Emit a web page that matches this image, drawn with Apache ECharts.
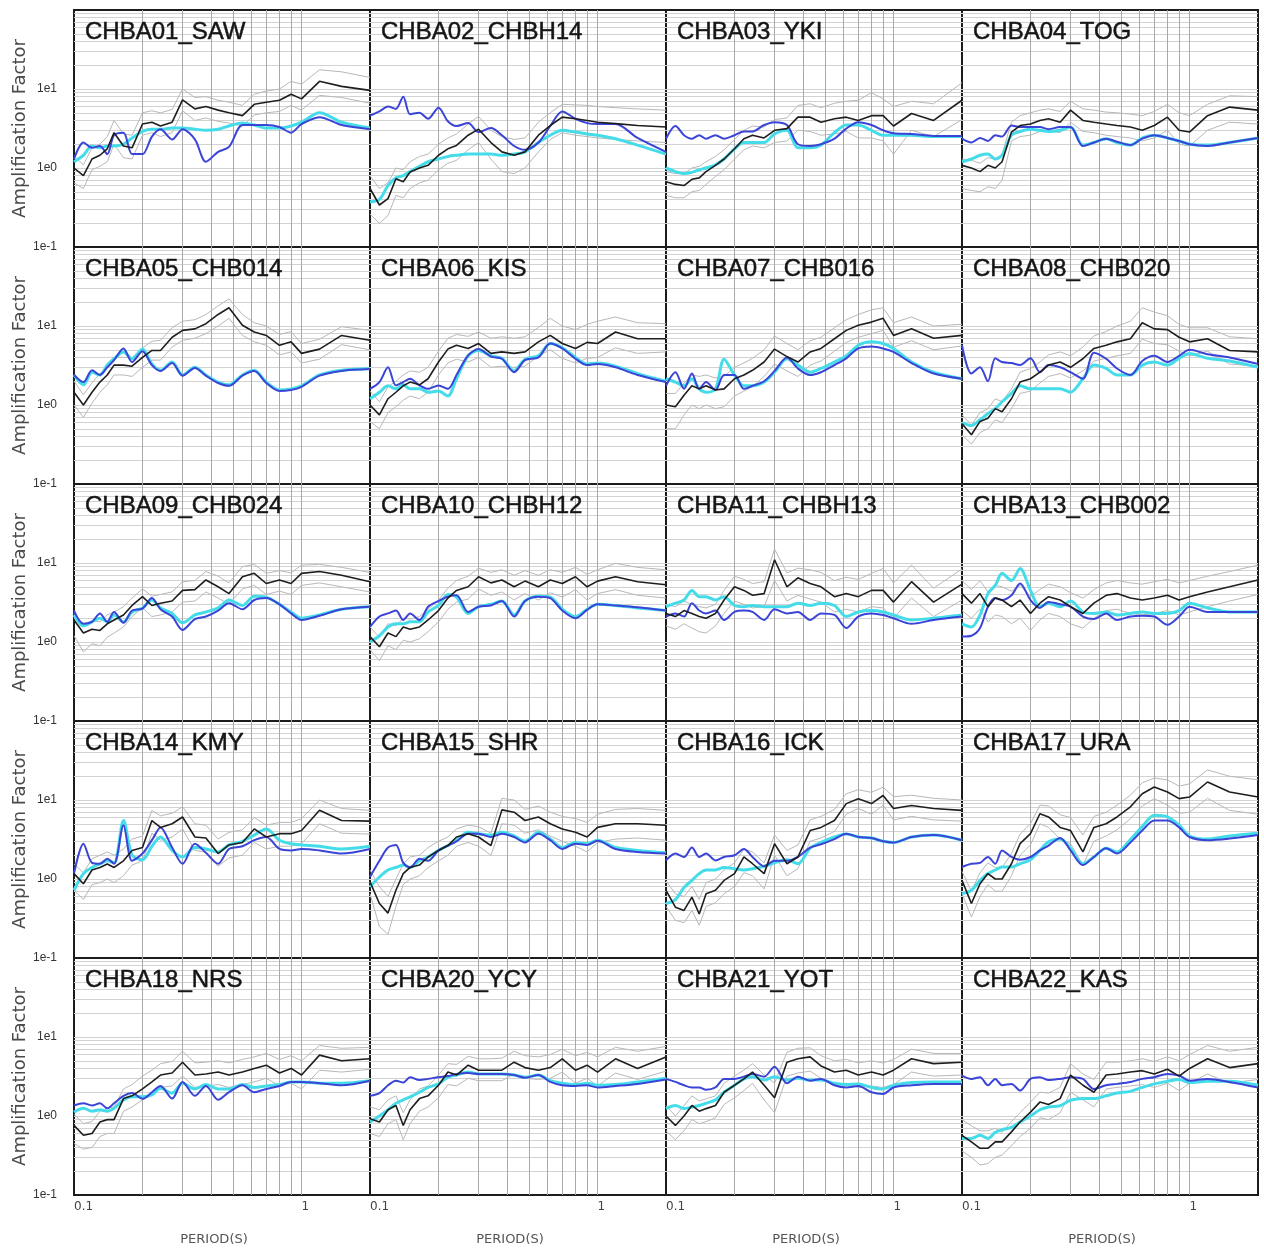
<!DOCTYPE html>
<html>
<head>
<meta charset="utf-8">
<script src="https://cdn.jsdelivr.net/npm/echarts@6/dist/echarts.min.js"></script>
<style>
  html, body { margin: 0; padding: 0; background: #ffffff; }
  #chart { width: 1264px; height: 1252px; }
</style>
</head>
<body>
<div id="chart"></div>
<script>
// Sampled periods (s), shared by every curve
const periods = [0.10, 0.11, 0.12, 0.13, 0.14, 0.15, 0.165, 0.18, 0.20, 0.22, 0.24, 0.27, 0.30, 0.34, 0.38, 0.43, 0.48, 0.55, 0.62, 0.70, 0.80, 0.90, 1.0, 1.2, 1.5, 2.0];

const stations = ['CHBA01_SAW', 'CHBA02_CHBH14', 'CHBA03_YKI', 'CHBA04_TOG',
                  'CHBA05_CHB014', 'CHBA06_KIS', 'CHBA07_CHB016', 'CHBA08_CHB020',
                  'CHBA09_CHB024', 'CHBA10_CHBH12', 'CHBA11_CHBH13', 'CHBA13_CHB002',
                  'CHBA14_KMY', 'CHBA15_SHR', 'CHBA16_ICK', 'CHBA17_URA',
                  'CHBA18_NRS', 'CHBA20_YCY', 'CHBA21_YOT', 'CHBA22_KAS'];

// obs = observed mean, hi/lo = mean +/- one sigma, mA = model A (cyan), mB = model B (blue)
const SAW_obs = [1.0, 0.8, 1.3, 1.45, 1.75, 2.8, 1.9, 1.8, 3.6, 3.8, 3.4, 3.8, 7.3, 5.6, 6.0, 5.4, 5.0, 4.6, 6.4, 6.8, 7.2, 8.6, 7.5, 12.5, 10.8, 9.6];
const SAW_hi  = [1.4, 1.1, 1.8, 2.0, 2.5, 4.0, 2.7, 2.6, 5.0, 5.3, 5.0, 5.5, 10.0, 7.8, 8.0, 7.2, 6.8, 6.2, 8.6, 9.4, 10.0, 12.5, 11.5, 17.5, 16.5, 14.0];
const SAW_lo  = [0.65, 0.55, 0.95, 1.05, 1.2, 2.0, 1.35, 1.3, 2.6, 2.8, 2.5, 2.8, 5.3, 4.0, 4.3, 3.9, 3.7, 3.4, 4.7, 5.0, 5.2, 6.2, 5.4, 8.3, 7.8, 6.6];
const SAW_mA  = [1.2, 1.45, 1.9, 1.8, 1.9, 1.9, 2.0, 2.4, 2.9, 3.1, 3.1, 3.2, 3.2, 3.1, 3.0, 3.1, 3.4, 3.7, 3.5, 3.2, 3.2, 3.4, 3.8, 5.0, 3.8, 3.2];
const SAW_mB  = [1.3, 2.1, 1.8, 1.9, 1.5, 2.6, 2.8, 1.5, 1.5, 2.5, 3.1, 2.3, 3.1, 2.3, 1.2, 1.6, 1.85, 3.5, 3.5, 3.5, 3.3, 2.8, 3.6, 4.4, 3.5, 3.1];

const CHBH14_obs = [0.55, 0.34, 0.41, 0.73, 0.67, 0.89, 1.0, 1.08, 1.45, 1.75, 1.93, 2.6, 3.1, 2.1, 1.6, 1.45, 1.6, 2.6, 3.45, 4.4, 4.2, 4.0, 3.8, 3.65, 3.45, 3.3];
const CHBH14_hi  = [0.8, 0.55, 0.65, 1.0, 0.95, 1.2, 1.4, 1.5, 2.0, 2.4, 2.7, 3.6, 4.5, 3.0, 2.5, 2.3, 2.4, 3.8, 5.0, 6.4, 6.3, 6.2, 6.0, 5.8, 5.6, 5.4];
const CHBH14_lo  = [0.26, 0.2, 0.25, 0.45, 0.42, 0.55, 0.65, 0.7, 0.95, 1.15, 1.25, 1.7, 2.1, 1.3, 0.9, 0.85, 1.0, 1.6, 2.3, 2.8, 2.6, 2.5, 2.4, 2.3, 2.2, 2.1];
const CHBH14_mA  = [0.37, 0.4, 0.6, 0.75, 0.8, 0.9, 1.05, 1.2, 1.3, 1.4, 1.45, 1.5, 1.5, 1.5, 1.45, 1.5, 1.6, 2.1, 2.6, 3.0, 2.85, 2.7, 2.6, 2.35, 1.95, 1.5];
const CHBH14_mB  = [4.6, 5.2, 6.0, 5.6, 8.0, 4.8, 5.0, 4.2, 5.8, 3.9, 3.4, 3.7, 2.85, 3.2, 2.6, 1.9, 1.7, 2.1, 3.4, 5.2, 4.2, 3.7, 3.6, 3.6, 2.4, 1.6];

const YKI_obs = [0.67, 0.62, 0.6, 0.72, 0.75, 0.9, 1.08, 1.3, 1.75, 2.35, 2.6, 2.4, 3.0, 3.15, 4.4, 4.4, 3.8, 4.2, 4.4, 4.0, 4.6, 4.6, 3.4, 4.9, 4.0, 7.2];
const YKI_hi  = [0.9, 0.85, 0.85, 1.0, 1.05, 1.2, 1.4, 1.7, 2.3, 3.0, 3.4, 3.3, 4.1, 4.3, 6.2, 6.5, 5.8, 6.6, 7.0, 7.2, 9.0, 7.5, 6.0, 7.0, 6.5, 12.0];
const YKI_lo  = [0.45, 0.42, 0.42, 0.5, 0.52, 0.62, 0.78, 0.95, 1.3, 1.7, 1.9, 1.8, 2.1, 2.2, 3.0, 2.9, 2.6, 2.7, 2.9, 2.4, 2.4, 2.2, 1.5, 3.0, 2.5, 4.1];
const YKI_mA  = [1.0, 0.9, 0.85, 0.88, 0.95, 1.0, 1.1, 1.3, 1.75, 2.1, 2.1, 2.1, 2.7, 3.0, 1.8, 1.8, 1.95, 2.8, 3.5, 3.5, 3.0, 2.6, 2.6, 2.6, 2.5, 2.5];
const YKI_mB  = [2.35, 3.4, 2.6, 2.35, 2.6, 2.35, 2.6, 2.35, 2.6, 2.9, 2.9, 3.5, 3.8, 3.5, 2.0, 1.9, 2.0, 2.35, 3.15, 3.8, 3.5, 3.0, 2.75, 2.7, 2.55, 2.55];

const TOG_obs = [1.08, 1.0, 0.9, 1.08, 1.0, 1.2, 2.85, 3.45, 3.6, 4.0, 4.2, 3.8, 5.4, 4.0, 3.8, 3.6, 3.45, 3.3, 3.0, 3.45, 4.4, 3.0, 2.85, 4.6, 5.9, 5.4];
const TOG_hi  = [1.3, 1.25, 1.15, 1.35, 1.3, 1.5, 3.8, 4.6, 5.0, 5.4, 5.6, 5.2, 7.0, 5.6, 5.4, 5.1, 5.0, 4.8, 4.6, 5.2, 6.4, 5.0, 4.6, 6.4, 8.2, 8.0];
const TOG_lo  = [0.55, 0.52, 0.5, 0.58, 0.55, 0.7, 2.2, 2.5, 2.6, 2.9, 3.0, 2.8, 3.8, 2.9, 2.8, 2.6, 2.5, 2.4, 2.2, 2.4, 3.0, 2.0, 1.9, 3.0, 3.8, 3.6];
const TOG_mA  = [1.2, 1.3, 1.45, 1.5, 1.3, 1.45, 2.6, 2.9, 3.1, 3.0, 2.9, 3.0, 3.3, 1.95, 2.1, 2.35, 2.1, 1.95, 2.4, 2.6, 2.4, 2.2, 2.0, 1.95, 2.1, 2.4];
const TOG_mB  = [2.35, 2.1, 2.4, 2.2, 2.6, 2.5, 3.45, 3.3, 3.3, 3.3, 3.1, 3.3, 3.3, 1.9, 2.1, 2.35, 2.15, 1.95, 2.35, 2.6, 2.4, 2.2, 2.0, 1.9, 2.1, 2.4];

const CHB014_obs = [1.45, 1.0, 1.45, 1.95, 2.4, 3.2, 3.2, 3.1, 4.0, 4.9, 4.9, 7.2, 8.8, 9.2, 10.7, 14, 17, 10.2, 8.4, 7.6, 5.7, 6.3, 4.5, 5.1, 7.6, 6.6];
const CHB014_hi  = [2.0, 1.35, 1.9, 2.5, 3.0, 4.0, 4.0, 4.0, 5.3, 6.4, 6.6, 9.5, 11.5, 12, 14, 18, 22, 14, 11, 10, 7.8, 8.5, 6.0, 6.8, 9.8, 8.8];
const CHB014_lo  = [1.0, 0.7, 1.05, 1.45, 1.8, 2.4, 2.4, 2.3, 3.0, 3.7, 3.7, 5.4, 6.6, 7.0, 8.0, 10, 12.5, 7.6, 6.3, 5.7, 4.3, 4.7, 3.4, 3.8, 5.8, 5.0];
const CHB014_mA  = [2.4, 1.8, 2.6, 2.4, 3.2, 3.85, 4.7, 3.85, 5.1, 3.3, 2.75, 3.5, 2.4, 3.0, 2.4, 1.95, 1.8, 2.4, 2.75, 1.95, 1.55, 1.6, 1.75, 2.4, 2.75, 2.9];
const CHB014_mB  = [2.4, 1.95, 2.75, 2.4, 3.0, 3.7, 5.2, 3.5, 4.8, 3.2, 2.7, 3.4, 2.35, 2.95, 2.35, 1.9, 1.75, 2.35, 2.7, 1.9, 1.5, 1.55, 1.7, 2.35, 2.7, 2.85];

const KIS_obs = [1.0, 0.75, 1.2, 1.45, 1.75, 1.95, 1.8, 2.15, 3.5, 5.1, 5.7, 5.2, 6.0, 4.5, 4.7, 4.5, 4.7, 6.3, 7.6, 6.0, 5.2, 6.2, 6.0, 8.4, 6.9, 6.9];
const KIS_hi  = [1.5, 1.1, 1.7, 2.0, 2.4, 2.7, 2.6, 3.0, 4.8, 7.0, 7.8, 7.4, 8.4, 7.0, 7.3, 7.0, 7.3, 9.6, 12.5, 10.0, 9.0, 10.5, 11.5, 13, 11, 10.7];
const KIS_lo  = [0.62, 0.5, 0.8, 0.95, 1.15, 1.3, 1.2, 1.45, 2.4, 3.4, 3.8, 3.5, 4.0, 3.0, 3.1, 3.0, 3.1, 4.2, 5.0, 3.9, 3.4, 3.9, 4.0, 5.3, 4.5, 4.7];
const KIS_mA  = [1.2, 1.45, 1.75, 1.6, 1.8, 1.6, 1.6, 1.45, 1.5, 1.3, 2.15, 4.2, 4.9, 4.2, 3.9, 2.7, 3.8, 4.2, 6.0, 5.3, 4.0, 3.3, 3.4, 3.1, 2.5, 2.0];
const KIS_mB  = [1.6, 1.95, 3.0, 1.77, 1.95, 2.15, 1.77, 1.6, 1.77, 1.6, 2.4, 4.25, 5.1, 4.1, 3.85, 2.6, 3.7, 4.0, 6.0, 5.2, 3.85, 3.2, 3.3, 3.0, 2.4, 1.95];

const CHB016_obs = [1.0, 0.95, 1.33, 1.75, 1.6, 1.75, 1.55, 1.6, 2.15, 2.4, 2.75, 3.5, 5.1, 4.1, 3.5, 4.7, 5.2, 6.9, 8.8, 10.2, 11.2, 12.5, 7.6, 9.2, 7.0, 7.6];
const CHB016_hi  = [1.4, 1.4, 1.9, 2.4, 2.3, 2.4, 2.2, 2.3, 3.0, 3.4, 3.9, 5.0, 7.5, 6.0, 5.0, 6.5, 7.2, 9.5, 12, 14, 16, 17, 11, 13, 10, 10.5];
const CHB016_lo  = [0.5, 0.5, 0.75, 1.0, 0.9, 1.0, 0.9, 0.95, 1.3, 1.5, 1.7, 2.3, 3.3, 2.7, 2.3, 3.2, 3.6, 4.8, 6.2, 7.2, 8.0, 8.8, 5.4, 6.5, 5.0, 5.6];
const CHB016_mA  = [2.15, 1.95, 1.75, 2.15, 1.6, 1.45, 1.6, 3.8, 2.4, 1.75, 1.75, 1.95, 2.6, 3.85, 3.2, 2.6, 2.9, 3.5, 4.2, 5.7, 6.3, 6.0, 5.2, 3.5, 2.6, 2.15];
const CHB016_mB  = [1.75, 2.6, 1.6, 2.5, 1.6, 1.95, 1.55, 2.4, 2.4, 1.6, 1.75, 2.0, 2.7, 4.0, 2.9, 2.4, 2.6, 3.2, 3.9, 5.2, 5.5, 5.2, 4.7, 3.4, 2.5, 2.15];

const CHB020_obs = [0.58, 0.42, 0.62, 0.68, 0.9, 0.82, 1.2, 1.95, 2.15, 2.6, 3.2, 3.5, 3.0, 3.85, 5.2, 5.7, 6.3, 6.9, 11, 9.2, 9.0, 7.2, 6.3, 6.9, 4.9, 4.7];
const CHB020_hi  = [0.75, 0.56, 0.8, 0.9, 1.2, 1.1, 1.6, 2.6, 2.9, 3.5, 4.3, 4.7, 4.2, 5.4, 7.5, 8.5, 10, 11.5, 17, 15, 13.5, 10.5, 9.5, 9.5, 7.3, 6.9];
const CHB020_lo  = [0.42, 0.32, 0.45, 0.5, 0.65, 0.6, 0.9, 1.4, 1.5, 1.9, 2.3, 2.5, 2.2, 2.7, 3.6, 3.9, 4.2, 4.5, 6.8, 6.0, 5.8, 4.8, 4.2, 4.8, 3.3, 3.1];
const CHB020_mA  = [0.6, 0.55, 0.65, 0.78, 0.9, 1.1, 1.4, 1.75, 1.6, 1.6, 1.6, 1.6, 1.45, 2.15, 3.2, 2.9, 2.4, 2.4, 3.2, 3.5, 3.2, 3.9, 4.5, 3.9, 3.6, 3.0];
const CHB020_mB  = [5.7, 2.5, 3.0, 2.0, 3.9, 3.5, 3.4, 3.2, 3.9, 2.6, 3.2, 3.0, 2.6, 2.15, 4.6, 3.85, 2.9, 2.4, 3.6, 4.2, 3.5, 4.2, 5.0, 4.4, 4.0, 3.3];

const CHB024_obs = [1.9, 1.3, 1.45, 1.4, 1.7, 1.9, 2.2, 2.9, 3.75, 2.9, 3.1, 3.3, 4.5, 4.6, 6.1, 5.0, 4.1, 6.7, 7.4, 5.5, 6.1, 5.5, 7.4, 7.8, 7.0, 5.8];
const CHB024_hi  = [2.3, 1.7, 1.85, 1.8, 2.2, 2.4, 2.8, 3.6, 4.7, 3.8, 4.0, 4.3, 5.8, 6.0, 7.8, 6.8, 5.6, 9.0, 9.6, 7.4, 8.0, 7.5, 9.4, 9.6, 8.8, 7.6];
const CHB024_lo  = [1.2, 0.75, 0.95, 0.9, 1.15, 1.3, 1.55, 2.1, 2.7, 2.1, 2.2, 2.4, 3.2, 3.3, 4.3, 3.6, 3.0, 4.7, 5.2, 4.0, 4.4, 4.0, 5.2, 5.6, 5.0, 4.3];
const CHB024_mA  = [2.2, 1.6, 1.8, 2.0, 1.8, 2.2, 1.8, 2.4, 2.7, 3.4, 2.7, 2.3, 1.75, 2.2, 2.4, 2.7, 3.4, 2.9, 3.8, 3.7, 3.0, 2.4, 2.0, 2.2, 2.6, 2.8];
const CHB024_mB  = [2.5, 1.7, 1.8, 2.3, 1.8, 2.4, 1.75, 2.5, 2.65, 3.6, 2.6, 2.1, 1.42, 1.95, 2.1, 2.5, 3.1, 2.6, 3.4, 3.6, 3.0, 2.3, 1.9, 2.15, 2.6, 2.8];

const CHBH12_obs = [1.17, 0.87, 1.3, 1.17, 1.55, 1.45, 1.55, 1.9, 2.5, 3.6, 4.5, 5.0, 6.7, 5.6, 6.1, 5.0, 5.9, 5.0, 6.1, 5.5, 6.7, 5.0, 5.9, 6.7, 5.8, 5.3];
const CHBH12_hi  = [1.55, 1.15, 1.7, 1.6, 2.0, 1.95, 2.1, 2.6, 3.4, 4.8, 6.0, 6.8, 8.6, 7.6, 8.2, 7.0, 8.0, 7.0, 8.2, 7.6, 8.8, 7.2, 8.2, 9.9, 8.8, 8.2];
const CHBH12_lo  = [0.8, 0.58, 0.9, 0.8, 1.05, 1.0, 1.1, 1.35, 1.8, 2.6, 3.2, 3.5, 4.7, 3.9, 4.3, 3.4, 4.1, 3.4, 4.2, 3.7, 4.6, 3.4, 4.1, 4.6, 3.9, 3.6];
const CHBH12_mA  = [1.0, 1.2, 1.55, 1.7, 1.7, 1.8, 1.8, 2.4, 2.9, 4.0, 3.7, 2.3, 2.8, 3.0, 3.3, 2.2, 3.3, 3.8, 3.7, 2.6, 2.1, 2.6, 3.0, 2.9, 2.7, 2.5];
const CHBH12_mB  = [1.55, 2.1, 2.3, 2.5, 1.9, 2.3, 1.9, 2.8, 3.3, 3.75, 3.9, 2.4, 2.8, 2.9, 3.3, 2.1, 3.3, 3.75, 3.6, 2.5, 2.0, 2.55, 3.0, 2.9, 2.75, 2.5];

const CHBH13_obs = [2.3, 2.1, 2.5, 2.3, 2.1, 2.0, 2.3, 3.4, 5.0, 4.5, 3.9, 4.1, 11, 5.0, 6.5, 5.5, 5.0, 3.75, 4.1, 3.75, 4.5, 4.5, 3.2, 5.8, 3.2, 5.4];
const CHBH13_hi  = [3.0, 2.8, 3.3, 3.0, 2.8, 2.7, 3.0, 4.5, 6.8, 6.2, 5.5, 5.8, 15, 7.5, 8.6, 8.2, 7.6, 6.0, 6.6, 6.2, 7.4, 8.5, 5.6, 9.4, 4.8, 8.4];
const CHBH13_lo  = [1.6, 1.45, 1.7, 1.5, 1.35, 1.3, 1.6, 2.3, 3.3, 3.0, 2.7, 2.8, 6.0, 3.3, 3.9, 3.5, 3.2, 2.4, 2.6, 2.4, 2.8, 2.7, 2.0, 3.6, 2.1, 3.4];
const CHBH13_mA  = [2.8, 3.1, 3.4, 4.5, 3.75, 3.75, 3.4, 3.75, 2.9, 2.8, 2.9, 2.8, 2.8, 2.8, 3.1, 2.9, 3.1, 2.9, 2.1, 2.4, 2.5, 2.4, 2.2, 1.9, 2.0, 2.2];
const CHBH13_mB  = [2.1, 2.3, 2.1, 3.1, 2.5, 2.3, 2.5, 1.9, 2.4, 2.5, 2.4, 1.9, 2.6, 2.3, 2.4, 1.9, 2.3, 2.2, 1.5, 2.1, 2.3, 2.2, 2.0, 1.7, 1.9, 2.1];

const CHB002_obs = [4.1, 3.1, 4.1, 2.8, 3.6, 3.4, 2.8, 3.4, 2.3, 3.1, 3.75, 3.4, 2.8, 2.3, 3.1, 3.9, 4.1, 3.6, 3.4, 3.6, 3.9, 3.4, 3.75, 4.3, 5.0, 6.1];
const CHB002_hi  = [6.0, 4.6, 6.0, 4.3, 5.2, 5.0, 4.4, 5.2, 3.8, 4.6, 5.4, 5.0, 4.2, 3.6, 4.6, 5.6, 6.0, 5.6, 5.4, 5.8, 6.2, 5.6, 6.0, 6.8, 7.8, 9.4];
const CHB002_lo  = [2.5, 2.0, 2.6, 1.8, 2.2, 2.1, 1.7, 2.0, 1.4, 1.9, 2.3, 2.1, 1.7, 1.5, 2.0, 2.5, 2.6, 2.3, 2.2, 2.3, 2.5, 2.2, 2.4, 2.8, 3.3, 4.0];
const CHB002_mA  = [1.7, 1.55, 2.2, 4.1, 5.2, 7.4, 6.0, 8.5, 4.5, 2.8, 3.1, 2.8, 3.3, 2.4, 2.3, 2.4, 2.2, 2.3, 2.4, 2.3, 2.3, 2.5, 3.1, 2.7, 2.4, 2.4];
const CHB002_mB  = [1.17, 1.2, 1.5, 2.8, 3.6, 3.4, 3.9, 5.5, 3.4, 2.7, 3.2, 3.0, 2.8, 2.1, 1.95, 2.3, 1.9, 2.1, 2.15, 2.1, 1.65, 2.1, 2.8, 2.4, 2.4, 2.4];

const KMY_obs = [1.17, 0.87, 1.3, 1.4, 1.55, 1.4, 1.7, 2.3, 2.5, 5.5, 4.5, 5.0, 6.1, 3.4, 3.3, 2.1, 2.7, 2.9, 4.3, 3.4, 3.75, 3.75, 4.1, 7.4, 5.5, 5.4];
const KMY_hi  = [1.55, 1.2, 1.8, 2.0, 2.2, 2.0, 2.4, 3.2, 3.5, 7.4, 6.3, 6.8, 8.2, 5.0, 4.8, 3.2, 3.9, 4.2, 6.0, 4.8, 5.2, 5.2, 5.8, 10, 7.8, 7.4];
const KMY_lo  = [0.72, 0.55, 0.85, 0.9, 1.0, 0.9, 1.1, 1.5, 1.7, 3.8, 3.1, 3.4, 4.3, 2.3, 2.2, 1.45, 1.85, 2.0, 2.9, 2.4, 2.6, 2.6, 2.8, 5.0, 3.8, 3.7];
const KMY_mA  = [0.72, 1.17, 1.4, 1.55, 1.7, 1.6, 5.5, 2.0, 1.75, 2.6, 3.4, 2.3, 1.9, 2.5, 2.4, 2.2, 2.7, 3.0, 3.6, 4.3, 3.1, 2.8, 2.7, 2.6, 2.4, 2.6];
const KMY_mB  = [1.17, 2.8, 1.6, 1.56, 1.8, 1.56, 4.8, 1.7, 2.1, 3.1, 4.5, 2.5, 1.56, 2.8, 2.15, 1.56, 2.4, 2.6, 3.1, 3.4, 2.4, 2.3, 2.4, 2.3, 2.1, 2.4];

const SHR_obs = [0.92, 0.49, 0.37, 0.72, 1.17, 1.4, 1.5, 1.9, 2.3, 2.65, 3.4, 3.75, 3.4, 2.65, 7.5, 7.0, 5.5, 6.1, 5.0, 4.3, 3.9, 3.4, 4.5, 5.0, 5.0, 4.8];
const SHR_hi  = [1.3, 0.8, 0.6, 1.0, 1.55, 1.9, 2.0, 2.5, 3.0, 3.4, 4.3, 4.8, 4.6, 3.8, 10.5, 10.0, 7.6, 8.4, 7.0, 6.2, 5.8, 5.2, 6.6, 7.6, 7.8, 7.4];
const SHR_lo  = [0.65, 0.25, 0.2, 0.45, 0.85, 1.0, 1.1, 1.4, 1.7, 2.0, 2.6, 2.9, 2.6, 2.0, 5.0, 4.8, 3.8, 4.2, 3.5, 3.0, 2.6, 2.2, 2.9, 3.2, 3.3, 3.1];
const SHR_mA  = [0.8, 1.06, 1.3, 1.4, 1.5, 1.4, 1.7, 1.9, 2.3, 2.65, 3.1, 3.9, 3.75, 3.6, 3.9, 3.5, 3.0, 3.9, 3.2, 2.5, 2.9, 2.8, 3.1, 2.5, 2.3, 2.15];
const SHR_mB  = [1.06, 1.7, 2.5, 2.7, 1.6, 1.4, 1.8, 1.7, 2.3, 2.65, 3.0, 3.75, 3.75, 3.4, 3.75, 3.4, 2.9, 3.75, 3.1, 2.4, 2.8, 2.7, 3.05, 2.4, 2.2, 2.1];

const ICK_obs = [0.72, 0.44, 0.4, 0.59, 0.36, 0.65, 0.72, 0.96, 1.17, 1.9, 1.56, 1.17, 2.8, 1.56, 1.9, 4.1, 4.5, 5.5, 9.0, 10.4, 9.0, 11.4, 7.8, 8.5, 7.8, 7.4];
const ICK_hi  = [0.95, 0.65, 0.6, 0.8, 0.55, 0.9, 1.0, 1.3, 1.6, 2.4, 2.2, 1.6, 3.6, 2.3, 2.7, 5.6, 6.2, 7.6, 12, 13.5, 12.5, 14.5, 11, 11.5, 10.5, 10];
const ICK_lo  = [0.45, 0.3, 0.28, 0.4, 0.26, 0.45, 0.5, 0.65, 0.8, 1.2, 1.1, 0.75, 2.0, 1.1, 1.35, 3.0, 3.3, 4.0, 6.6, 7.8, 6.6, 8.6, 5.6, 6.2, 5.6, 5.4];
const ICK_mA  = [0.49, 0.55, 0.78, 0.96, 1.17, 1.3, 1.3, 1.4, 1.35, 1.3, 1.35, 1.45, 1.6, 1.75, 1.56, 2.45, 2.9, 3.4, 3.7, 3.4, 3.3, 3.0, 2.9, 3.4, 3.6, 3.1];
const ICK_mB  = [1.72, 2.1, 1.9, 2.5, 1.9, 2.1, 1.72, 1.9, 2.0, 2.4, 1.9, 1.45, 1.7, 1.7, 1.9, 2.5, 2.75, 3.2, 3.75, 3.4, 3.3, 3.0, 2.9, 3.4, 3.6, 3.1];

const URA_obs = [0.96, 0.49, 0.87, 1.17, 1.0, 1.0, 1.56, 2.8, 3.75, 6.7, 6.1, 4.5, 4.1, 2.2, 4.5, 5.0, 6.1, 8.2, 12, 14.6, 12.6, 10.4, 10.9, 16.9, 12.6, 10.9];
const URA_hi  = [1.25, 0.7, 1.2, 1.6, 1.4, 1.4, 2.1, 3.7, 5.0, 8.6, 8.4, 6.5, 6.0, 3.6, 6.2, 7.0, 8.6, 11.5, 16.5, 19, 18, 15, 16, 24, 20, 18];
const URA_lo  = [0.65, 0.33, 0.6, 0.85, 0.7, 0.7, 1.1, 2.0, 2.7, 5.0, 4.5, 3.2, 2.8, 1.5, 3.0, 3.5, 4.2, 5.8, 8.4, 10.4, 8.6, 6.8, 7.0, 10.5, 7.4, 6.6];
const URA_mA  = [0.65, 0.72, 0.96, 1.17, 1.3, 1.42, 1.42, 1.56, 1.75, 2.3, 2.95, 3.2, 2.45, 1.56, 1.9, 2.45, 2.2, 3.15, 4.6, 6.4, 6.1, 4.8, 3.5, 3.2, 3.5, 3.8];
const URA_mB  = [1.42, 1.56, 1.6, 1.9, 1.56, 2.3, 1.9, 1.75, 1.9, 2.3, 2.65, 3.3, 2.3, 1.5, 1.9, 2.45, 2.1, 2.9, 4.1, 5.5, 5.5, 4.5, 3.4, 3.1, 3.25, 3.6];

const NRS_obs = [0.76, 0.57, 0.6, 0.84, 0.9, 0.9, 1.66, 1.8, 2.2, 2.7, 3.3, 3.5, 4.8, 3.3, 3.4, 3.6, 3.3, 3.6, 4.0, 4.4, 3.5, 4.0, 3.3, 5.9, 5.0, 5.3];
const NRS_hi  = [1.05, 0.8, 0.85, 1.15, 1.25, 1.3, 2.2, 2.5, 3.2, 3.8, 4.6, 4.9, 6.6, 4.7, 4.8, 5.0, 4.7, 5.2, 5.6, 6.2, 5.2, 5.8, 5.0, 7.8, 7.2, 7.4];
const NRS_lo  = [0.45, 0.38, 0.4, 0.55, 0.6, 0.6, 1.15, 1.3, 1.6, 1.85, 2.3, 2.4, 3.2, 2.3, 2.4, 2.5, 2.3, 2.5, 2.7, 3.0, 2.4, 2.6, 2.2, 3.8, 3.6, 3.9];
const NRS_mA  = [1.12, 1.25, 1.15, 1.2, 1.15, 1.25, 1.6, 1.75, 1.75, 1.85, 2.25, 1.95, 2.6, 2.2, 2.5, 2.2, 2.2, 2.5, 2.3, 2.4, 2.5, 2.7, 2.7, 2.6, 2.6, 2.8];
const NRS_mB  = [1.36, 1.45, 1.36, 1.45, 1.25, 1.45, 1.8, 1.95, 1.65, 2.0, 2.4, 1.66, 2.7, 1.8, 2.4, 1.6, 2.0, 2.45, 2.0, 2.2, 2.4, 2.7, 2.7, 2.6, 2.45, 2.8];

const YCY_obs = [0.92, 0.84, 1.2, 1.36, 0.76, 1.2, 1.66, 1.8, 2.45, 3.6, 3.3, 4.4, 3.8, 3.8, 3.8, 4.8, 4.1, 3.8, 4.1, 5.3, 3.8, 4.4, 3.6, 5.3, 4.0, 5.6];
const YCY_hi  = [1.3, 1.2, 1.6, 1.8, 1.1, 1.6, 2.2, 2.4, 3.3, 4.6, 4.5, 5.7, 5.3, 5.3, 5.4, 6.6, 5.8, 5.6, 6.0, 7.0, 5.8, 6.4, 5.6, 7.4, 6.6, 7.6];
const YCY_lo  = [0.6, 0.55, 0.8, 0.9, 0.5, 0.8, 1.15, 1.3, 1.7, 2.5, 2.4, 3.0, 2.8, 2.8, 2.8, 3.4, 3.0, 2.9, 3.0, 3.6, 2.6, 3.0, 2.4, 3.5, 2.9, 3.7];
const YCY_mA  = [0.84, 1.0, 1.2, 1.45, 1.6, 1.75, 2.0, 2.3, 2.55, 3.1, 3.3, 3.6, 3.4, 3.4, 3.4, 3.3, 3.1, 3.3, 2.8, 2.6, 2.5, 2.6, 2.45, 2.5, 2.7, 3.0];
const YCY_mB  = [1.8, 1.95, 2.45, 2.8, 2.65, 3.1, 2.85, 2.95, 3.1, 3.2, 3.4, 3.5, 3.4, 3.4, 3.4, 3.3, 3.05, 3.3, 2.7, 2.45, 2.4, 2.45, 2.3, 2.4, 2.55, 2.9];

const YOT_obs = [1.0, 0.76, 1.0, 1.36, 1.15, 1.24, 1.36, 2.0, 2.45, 2.95, 3.6, 2.45, 1.7, 4.8, 5.3, 5.6, 4.3, 3.6, 3.8, 3.3, 3.6, 3.3, 3.8, 5.3, 4.6, 4.8];
const YOT_hi  = [1.35, 1.0, 1.35, 1.8, 1.55, 1.65, 1.8, 2.6, 3.2, 3.8, 4.6, 3.3, 2.6, 6.4, 7.2, 7.3, 5.8, 5.0, 5.2, 4.7, 5.0, 4.7, 5.2, 7.0, 6.2, 6.2];
const YOT_lo  = [0.65, 0.5, 0.65, 0.9, 0.8, 0.85, 0.95, 1.4, 1.7, 2.1, 2.6, 1.6, 1.1, 3.2, 3.5, 3.7, 3.0, 2.5, 2.6, 2.3, 2.4, 2.3, 2.5, 3.6, 3.2, 3.3];
const YOT_mA  = [1.24, 1.36, 1.24, 1.3, 1.36, 1.45, 1.6, 2.0, 2.45, 2.95, 3.15, 2.85, 3.15, 2.85, 3.0, 2.85, 2.85, 2.6, 2.5, 2.55, 2.3, 2.2, 2.45, 2.65, 2.7, 2.7];
const YOT_mB  = [2.95, 2.7, 2.45, 2.3, 2.3, 2.15, 2.3, 2.95, 2.95, 3.15, 3.4, 3.15, 4.2, 2.6, 3.15, 2.8, 2.95, 2.45, 2.3, 2.4, 2.0, 1.9, 2.3, 2.45, 2.55, 2.55];

const KAS_obs = [0.57, 0.47, 0.39, 0.39, 0.47, 0.47, 0.63, 0.84, 1.12, 1.5, 1.4, 1.66, 3.3, 2.45, 2.0, 3.3, 3.4, 3.6, 3.75, 3.4, 3.9, 3.2, 4.0, 5.3, 4.1, 4.6];
const KAS_hi  = [0.9, 0.75, 0.65, 0.65, 0.7, 0.62, 0.85, 1.1, 1.5, 2.0, 1.95, 2.3, 4.6, 3.4, 2.9, 4.8, 4.8, 5.0, 5.3, 4.9, 5.6, 5.0, 6.0, 7.8, 6.6, 7.4];
const KAS_lo  = [0.36, 0.3, 0.24, 0.25, 0.3, 0.32, 0.42, 0.55, 0.7, 0.95, 0.9, 1.1, 2.0, 1.6, 1.3, 2.2, 2.3, 2.4, 2.5, 2.3, 2.6, 2.1, 2.6, 3.4, 2.6, 2.9];
const KAS_mA  = [0.52, 0.52, 0.57, 0.52, 0.62, 0.67, 0.72, 0.84, 1.0, 1.2, 1.3, 1.35, 1.58, 1.66, 1.66, 1.8, 1.95, 2.05, 2.3, 2.55, 2.75, 2.9, 2.65, 2.75, 2.75, 2.45];
const KAS_mB  = [3.25, 2.95, 3.1, 2.45, 2.95, 2.45, 2.55, 2.1, 2.95, 3.1, 2.85, 2.95, 3.1, 2.95, 2.2, 2.45, 2.55, 2.7, 2.95, 3.1, 3.4, 3.25, 2.8, 2.95, 2.7, 2.3];

// Log-decade grid positions inside each panel
const hGridValues = [0.2, 0.3, 0.4, 0.5, 0.6, 0.7, 0.8, 0.9, 1, 2, 3, 4, 5, 6, 7, 8, 9, 10, 20, 30, 40, 50, 60, 70, 80, 90];
const vGridValues = [0.2, 0.3, 0.4, 0.5, 0.6, 0.7, 0.8, 0.9, 1];

// Per-panel curve sets: [mean, +sigma, -sigma, model A, model B]
const panelCurves = [
  [SAW_obs, SAW_hi, SAW_lo, SAW_mA, SAW_mB],
  [CHBH14_obs, CHBH14_hi, CHBH14_lo, CHBH14_mA, CHBH14_mB],
  [YKI_obs, YKI_hi, YKI_lo, YKI_mA, YKI_mB],
  [TOG_obs, TOG_hi, TOG_lo, TOG_mA, TOG_mB],
  [CHB014_obs, CHB014_hi, CHB014_lo, CHB014_mA, CHB014_mB],
  [KIS_obs, KIS_hi, KIS_lo, KIS_mA, KIS_mB],
  [CHB016_obs, CHB016_hi, CHB016_lo, CHB016_mA, CHB016_mB],
  [CHB020_obs, CHB020_hi, CHB020_lo, CHB020_mA, CHB020_mB],
  [CHB024_obs, CHB024_hi, CHB024_lo, CHB024_mA, CHB024_mB],
  [CHBH12_obs, CHBH12_hi, CHBH12_lo, CHBH12_mA, CHBH12_mB],
  [CHBH13_obs, CHBH13_hi, CHBH13_lo, CHBH13_mA, CHBH13_mB],
  [CHB002_obs, CHB002_hi, CHB002_lo, CHB002_mA, CHB002_mB],
  [KMY_obs, KMY_hi, KMY_lo, KMY_mA, KMY_mB],
  [SHR_obs, SHR_hi, SHR_lo, SHR_mA, SHR_mB],
  [ICK_obs, ICK_hi, ICK_lo, ICK_mA, ICK_mB],
  [URA_obs, URA_hi, URA_lo, URA_mA, URA_mB],
  [NRS_obs, NRS_hi, NRS_lo, NRS_mA, NRS_mB],
  [YCY_obs, YCY_hi, YCY_lo, YCY_mA, YCY_mB],
  [YOT_obs, YOT_hi, YOT_lo, YOT_mA, YOT_mB],
  [KAS_obs, KAS_hi, KAS_lo, KAS_mA, KAS_mB]
];

const NCOL = 4, NROW = 5;
const PANEL_W = 296, PANEL_H = 237, LEFT0 = 74, TOP0 = 10;

const pairs = vals => periods.map((p, i) => [p, vals[i]]);
const nearly = (a, b) => Math.abs(a - b) < 1e-6 * Math.max(1, Math.abs(b));

const grids = [], xAxes = [], yAxes = [], titles = [], series = [];

stations.forEach((name, i) => {
  const r = Math.floor(i / NCOL), c = i % NCOL;
  const left = LEFT0 + c * PANEL_W, top = TOP0 + r * PANEL_H;
  grids.push({
    left: left, top: top, width: PANEL_W, height: PANEL_H,
    show: true, borderColor: '#1c1c1c', borderWidth: 2, backgroundColor: '#ffffff'
  });
  titles.push({
    text: name, left: left + 11, top: top + 10, padding: 0,
    textStyle: {
      fontFamily: 'Liberation Sans, Arial, sans-serif', fontSize: 24, fontWeight: 'normal', color: '#151515',
      textBorderColor: '#151515', textBorderWidth: 0.5
    }
  });
  const bottomRow = r === NROW - 1;
  xAxes.push({
    type: 'log', logBase: 10, min: 0.1, max: 2, gridIndex: i,
    axisLine: { show: false }, axisTick: { show: false }, splitLine: { show: false },
    axisLabel: {
      show: bottomRow, showMaxLabel: false, align: 'left', margin: 6,
      fontFamily: 'DejaVu Sans, sans-serif', fontSize: 12, color: '#444',
      formatter: v => nearly(v, 0.1) ? '0.1' : (nearly(v, 1) ? '1' : '')
    },
    name: bottomRow ? 'PERIOD(S)' : '', nameLocation: 'middle', nameGap: 38,
    nameTextStyle: { fontFamily: 'DejaVu Sans, sans-serif', fontSize: 13, color: '#555', padding: [0, 16, 0, 0] }
  });
  const firstCol = c === 0;
  yAxes.push({
    type: 'log', logBase: 10, min: 0.1, max: 100, gridIndex: i,
    axisLine: { show: false }, axisTick: { show: false }, splitLine: { show: false },
    axisLabel: {
      show: firstCol, showMaxLabel: false, margin: 17,
      fontFamily: 'Liberation Sans, Arial, sans-serif', fontSize: 12, color: '#333',
      formatter: v => '1e' + Math.round(Math.log10(v))
    },
    name: firstCol ? 'Amplification Factor' : '', nameLocation: 'middle', nameRotate: 90, nameGap: 44,
    nameTextStyle: { fontFamily: 'DejaVu Sans, sans-serif', fontSize: 18, color: '#4a4a4a' }
  });

  const [obs, hi, lo, mA, mB] = panelCurves[i];
  const base = { type: 'line', xAxisIndex: i, yAxisIndex: i, showSymbol: false, symbol: 'none', silent: true, animation: false };
  series.push(Object.assign({}, base, {
    name: name + ' +sigma', data: pairs(hi), z: 3,
    lineStyle: { color: '#b8b8b8', width: 1 },
    markLine: {
      silent: true, symbol: 'none', z: 1, animation: false,
      label: { show: false },
      lineStyle: { color: '#d2d2d2', width: 1, type: 'solid' },
      emphasis: { disabled: true },
      data: hGridValues.map(v => ({ yAxis: v }))
        .concat(vGridValues.map(v => ({ xAxis: v, lineStyle: { color: '#a9a9a9', width: 1, type: 'solid' } })))
    }
  }));
  series.push(Object.assign({}, base, {
    name: name + ' -sigma', data: pairs(lo), z: 3,
    lineStyle: { color: '#b8b8b8', width: 1 }
  }));
  series.push(Object.assign({}, base, {
    name: name + ' model A', data: pairs(mA), z: 4, smooth: 0.3,
    lineStyle: { color: '#45dcea', width: 3 }
  }));
  series.push(Object.assign({}, base, {
    name: name + ' model B', data: pairs(mB), z: 5, smooth: 0.3,
    lineStyle: { color: '#3a44d6', width: 2 }
  }));
  series.push(Object.assign({}, base, {
    name: name + ' mean', data: pairs(obs), z: 6,
    lineStyle: { color: '#1e1e1e', width: 1.6 }
  }));
});

const chart = echarts.init(document.getElementById('chart'), null, { renderer: 'canvas' });
chart.setOption({
  backgroundColor: '#ffffff',
  animation: false,
  title: titles,
  grid: grids,
  xAxis: xAxes,
  yAxis: yAxes,
  series: series
});
</script>
</body>
</html>
